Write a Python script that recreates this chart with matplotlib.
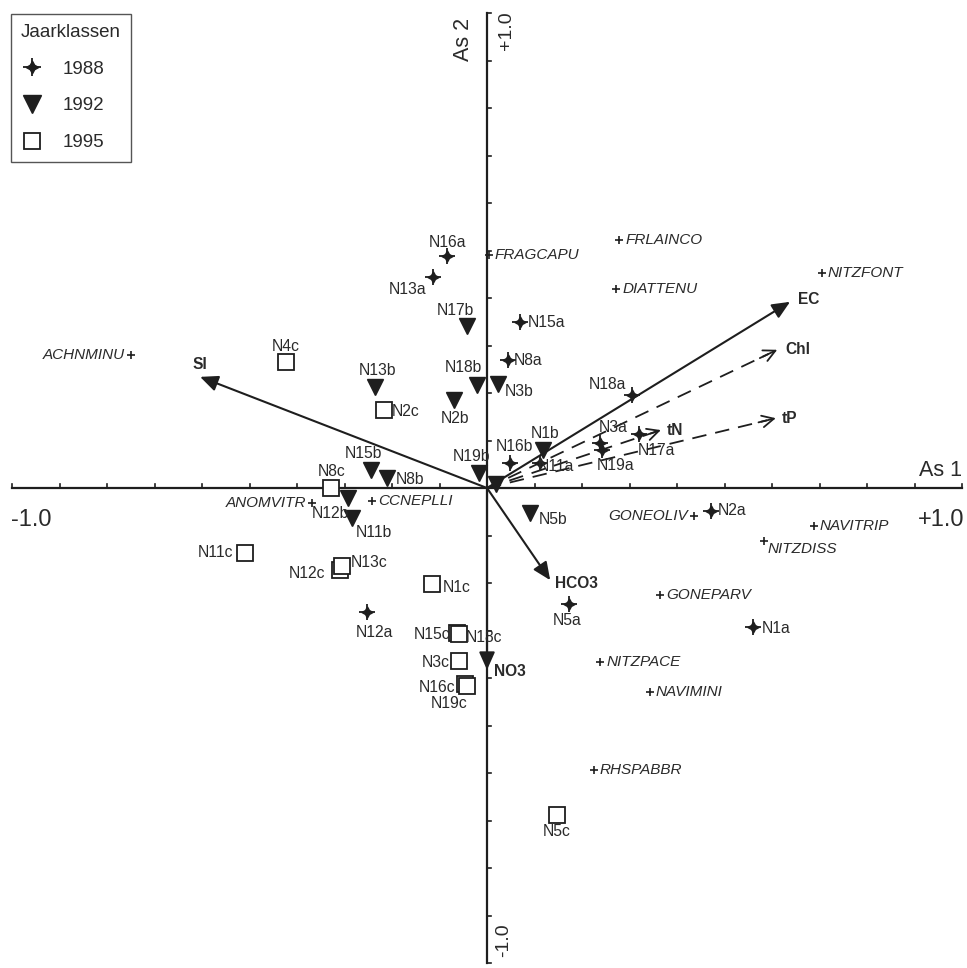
import matplotlib.pyplot as plt
from matplotlib.lines import Line2D

plt.rcParams['font.family'] = ['Liberation Sans', 'DejaVu Sans']

# ordination scores (axis 1, axis 2)
sites_1988 = ["N16a", "N13a", "N15a", "N8a", "N18a", "N3a", "N19a", "N17a",
              "N11a", "N16b", "N2a", "N5a", "N1a", "N12a"]
x_1988 = [-0.084, -0.114, 0.069, 0.044, 0.305, 0.238, 0.242, 0.320,
          0.112, 0.048, 0.472, 0.173, 0.560, -0.253]
y_1988 = [0.488, 0.444, 0.349, 0.269, 0.196, 0.095, 0.080, 0.114,
          0.053, 0.053, -0.048, -0.244, -0.293, -0.261]

sites_1992 = ["N17b", "N13b", "N18b", "N3b", "N2b", "N1b", "N19b", "N15b",
              "N8b", "N12b", "N11b", "N5b", ""]
x_1992 = [-0.042, -0.236, -0.021, 0.023, -0.069, 0.118, -0.017, -0.244,
          -0.211, -0.293, -0.284, 0.091, 0.019]
y_1992 = [0.341, 0.213, 0.217, 0.219, 0.185, 0.080, 0.032, 0.038,
          0.021, -0.021, -0.063, -0.053, 0.008]

sites_1995 = ["N4c", "N2c", "N8c", "N11c", "N12c", "N13c", "N1c", "N15c",
              "N18c", "N3c", "N16c", "N19c", "N5c"]
x_1995 = [-0.423, -0.217, -0.328, -0.509, -0.309, -0.305, -0.116, -0.063,
          -0.059, -0.059, -0.046, -0.042, 0.147]
y_1995 = [0.265, 0.164, 0.000, -0.137, -0.173, -0.164, -0.202, -0.305,
          -0.307, -0.364, -0.413, -0.417, -0.688]

species = ["ACHNMINU", "FRAGCAPU", "FRLAINCO", "DIATTENU", "NITZFONT",
           "ANOMVITR", "CCNEPLLI", "GONEOLIV", "NAVITRIP", "NITZDISS",
           "GONEPARV", "NITZPACE", "NAVIMINI", "RHSPABBR"]
x_spec = [-0.749, 0.004, 0.278, 0.272, 0.705, -0.368, -0.242, 0.436,
          0.688, 0.583, 0.364, 0.238, 0.343, 0.225]
y_spec = [0.280, 0.491, 0.522, 0.419, 0.453, -0.032, -0.027, -0.059,
          -0.080, -0.112, -0.225, -0.366, -0.429, -0.594]

env_vars = ["EC", "Chl", "tP", "tN", "SI", "HCO3", "NO3"]
x_env = [0.638, 0.611, 0.608, 0.366, -0.604, 0.133, 0.000]
y_env = [0.392, 0.291, 0.147, 0.122, 0.234, -0.194, -0.383]
dashed_env = ["Chl", "tP", "tN"]

# label offsets in pixels (dx, dy) and horizontal alignment
site_offsets = {
    "N16a": (0, 14, "center"), "N13a": (-25, -12, "center"),
    "N15a": (8, 0, "left"), "N8a": (6, 0, "left"),
    "N18a": (-24, 10, "center"), "N3a": (13, 15, "center"),
    "N19a": (14, -15, "center"), "N17a": (17, -17, "center"),
    "N11a": (16, -4, "center"), "N16b": (5, 16, "center"),
    "N2a": (7, 0, "left"), "N5a": (-2, -17, "center"),
    "N1a": (9, -1, "left"), "N12a": (8, -21, "center"),
    "N17b": (-12, 16, "center"), "N13b": (3, 16, "center"),
    "N18b": (-14, 17, "center"), "N3b": (21, -8, "center"),
    "N2b": (1, -18, "center"), "N1b": (2, 17, "center"),
    "N19b": (-7, 16, "center"), "N15b": (-8, 16, "center"),
    "N8b": (23, -1, "center"), "N12b": (-17, -16, "center"),
    "N11b": (22, -15, "center"), "N5b": (23, -6, "center"),
    "N4c": (0, 16, "center"), "N2c": (22, -1, "center"),
    "N8c": (0, 17, "center"), "N11c": (-30, 1, "center"),
    "N12c": (-33, -3, "center"), "N13c": (27, 3, "center"),
    "N1c": (25, -4, "center"), "N15c": (-25, -2, "center"),
    "N18c": (25, -4, "center"), "N3c": (-23, -2, "center"),
    "N16c": (-28, -3, "center"), "N19c": (-18, -17, "center"),
    "N5c": (0, -17, "center"),
}
spec_left = ["ACHNMINU", "ANOMVITR", "GONEOLIV"]
env_offsets = {"EC": (8, 2, "left"), "Chl": (8, 0, "left"), "tP": (6, 0, "left"),
               "tN": (6, 0, "left"), "SI": (0, 12, "center"),
               "HCO3": (5, -3, "left"), "NO3": (7, -2, "left")}

ink = "#1e1e1e"
txt = "#2a2a2a"

fig = plt.figure(figsize=(9.67, 9.68), dpi=100)
ax = fig.add_axes([0, 0, 1, 1])
ax.set_xlim(-1.0253, 1.0105)
ax.set_ylim(-1.0105, 1.0274)
ax.axis("off")

# axes through the origin with tick marks every 0.1
ax.plot([-1, 1], [0, 0], color=ink, lw=1.6, zorder=1)
ax.plot([0, 0], [-1, 1], color=ink, lw=1.6, zorder=1)
for i in range(-10, 11):
    t = i / 10
    ax.plot([t, t], [0, 0.009], color=ink, lw=1.2, zorder=1)
    ax.plot([0, 0.009], [t, t], color=ink, lw=1.2, zorder=1)

ax.text(-0.96, -0.067, "-1.0", fontsize=17, color=txt, ha="center", va="center")
ax.text(0.955, -0.067, "+1.0", fontsize=17, color=txt, ha="center", va="center")
ax.text(0.955, 0.036, "As 1", fontsize=15.5, color=txt, ha="center", va="center")
ax.text(-0.050, 0.945, "As 2", fontsize=15.5, color=txt, ha="center", va="center",
        rotation=90)
ax.text(0.042, 0.962, "+1.0", fontsize=14, color=txt, ha="center", va="center",
        rotation=90)
ax.text(0.034, -0.952, "-1.0", fontsize=14, color=txt, ha="center", va="center",
        rotation=90)

# environmental variables as arrows from the origin
for name, ex, ey in zip(env_vars, x_env, y_env):
    if name in dashed_env:
        ax.plot([0, ex * 0.97], [0, ey * 0.97], color=ink, lw=1.3,
                dashes=(8, 5), zorder=2)
        ax.annotate("", xy=(ex, ey), xytext=(ex * 0.94, ey * 0.94),
                    arrowprops=dict(arrowstyle="->,head_length=0.6,head_width=0.3",
                                    color=ink, lw=1.3, shrinkA=0, shrinkB=0,
                                    mutation_scale=14), zorder=2)
    else:
        ax.annotate("", xy=(ex, ey), xytext=(0, 0),
                    arrowprops=dict(arrowstyle="-|>,head_length=0.9,head_width=0.4",
                                    color=ink, lw=1.5, shrinkA=0, shrinkB=0,
                                    mutation_scale=12), zorder=2)
    dx, dy, ha = env_offsets[name]
    ax.annotate(name, (ex, ey), xytext=(dx, dy), textcoords="offset pixels",
                ha=ha, va="center", fontsize=11.2, fontweight="bold", color=txt)

# species
ax.plot(x_spec, y_spec, "+", color=ink, ms=6, mew=1.2, zorder=3)
for name, sx, sy in zip(species, x_spec, y_spec):
    if name in spec_left:
        off, ha = (-6, 0), "right"
    elif name == "NITZDISS":
        off, ha = (4, -8), "left"
    else:
        off, ha = (6, 0), "left"
    ax.annotate(name, (sx, sy), xytext=off, textcoords="offset pixels",
                ha=ha, va="center", fontsize=11, style="italic", color=txt)

# sites per year class; 1988 drawn as a cross with a filled four-point star
star = (4, 1, 0)
ax.plot(x_1988, y_1988, ls="none", marker="+", ms=12, mew=1.3, color=ink, zorder=4)
ax.plot(x_1988, y_1988, ls="none", marker=star, ms=8, color=ink, zorder=4)
ax.plot(x_1992, y_1992, ls="none", marker="v", ms=11, color=ink, zorder=4)
ax.plot(x_1995, y_1995, ls="none", marker="s", ms=11, mfc="white", mec=ink,
        mew=1.3, zorder=4)

for names, xs, ys in [(sites_1988, x_1988, y_1988), (sites_1992, x_1992, y_1992),
                      (sites_1995, x_1995, y_1995)]:
    for name, px, py in zip(names, xs, ys):
        if not name:
            continue
        dx, dy, ha = site_offsets[name]
        ax.annotate(name, (px, py), xytext=(dx, dy), textcoords="offset pixels",
                    ha=ha, va="center", fontsize=11.3, color=txt, zorder=5)

handles = [
    (Line2D([], [], ls="none", marker="+", ms=13, mew=1.3, color=ink),
     Line2D([], [], ls="none", marker=star, ms=9, color=ink)),
    Line2D([], [], ls="none", marker="v", ms=13, color=ink),
    Line2D([], [], ls="none", marker="s", ms=12, mfc="white", mec=ink, mew=1.3),
]
leg = ax.legend(handles, ["1988", "1992", "1995"], title="Jaarklassen",
                loc="upper left", bbox_to_anchor=(0.011, 0.986), fontsize=13.5,
                title_fontsize=13.5, frameon=True, fancybox=False,
                edgecolor="#555555", labelspacing=1.05, handlelength=1.2,
                handletextpad=1.0, borderpad=0.55, borderaxespad=0,
                framealpha=1, alignment="left")
leg.get_frame().set_linewidth(1.0)
leg.get_title().set_color(txt)
for t in leg.get_texts():
    t.set_color(txt)

fig.savefig("out.png", dpi=100)
